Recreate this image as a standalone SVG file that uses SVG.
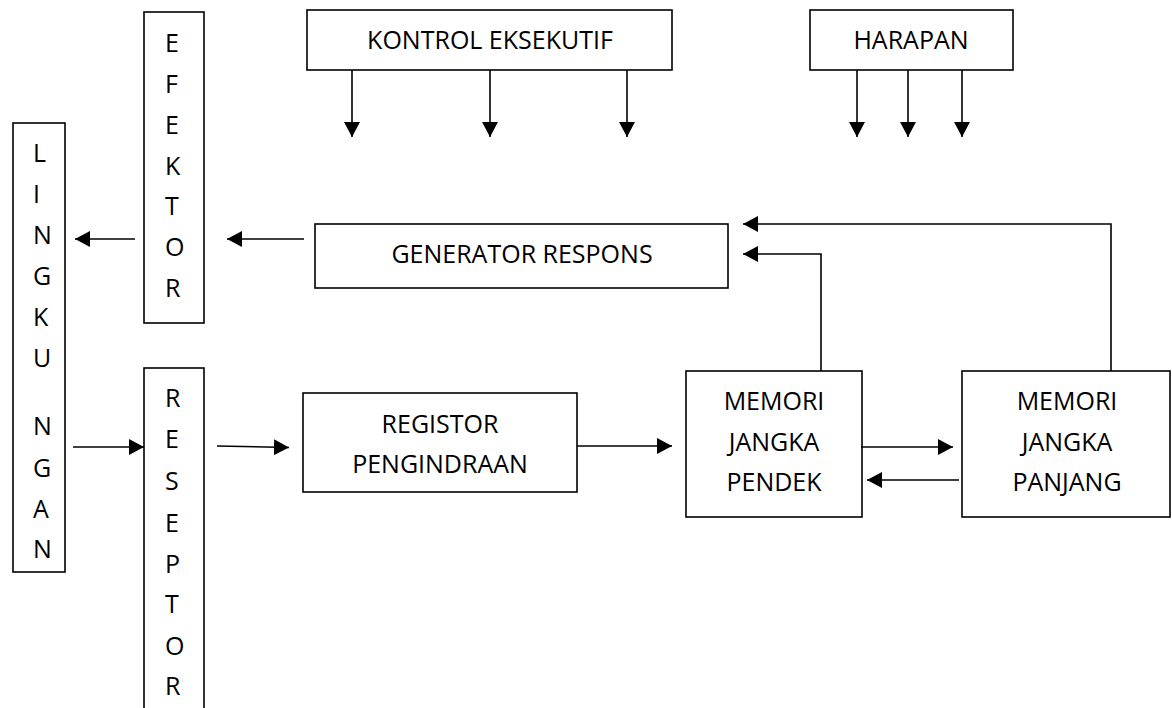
<svg xmlns="http://www.w3.org/2000/svg" width="1172" height="708" viewBox="0 0 1172 708">
<style>
.box{fill:#fff;stroke:#000;stroke-width:1.6}
.t{font-family:"Open Sans","Liberation Sans",sans-serif;font-size:25px;fill:#000}
.c{text-anchor:middle}
.v{text-anchor:start}
.ln{fill:none;stroke:#000;stroke-width:1.6}
</style>
<defs>
<marker id="ah" markerUnits="userSpaceOnUse" markerWidth="15" markerHeight="16" refX="15" refY="8" orient="auto">
<path d="M0,0 L15,8 L0,16 z" fill="#000"/>
</marker>
</defs>
<rect width="1172" height="708" fill="#fff"/>

<g id="efektor">
<rect class="box" x="144" y="12" width="60" height="311"/>
<text class="t v" x="165" y="52">E</text>
<text class="t v" x="165" y="93">F</text>
<text class="t v" x="165" y="134">E</text>
<text class="t v" x="165" y="175">K</text>
<text class="t v" x="165" y="215">T</text>
<text class="t v" x="165" y="256">O</text>
<text class="t v" x="165" y="297">R</text>
</g>

<g id="lingkungan">
<rect class="box" x="13" y="123" width="52" height="449"/>
<text class="t v" x="33" y="162">L</text>
<text class="t v" x="33" y="203">I</text>
<text class="t v" x="33" y="244">N</text>
<text class="t v" x="33" y="285">G</text>
<text class="t v" x="33" y="326">K</text>
<text class="t v" x="33" y="367">U</text>
<text class="t v" x="33" y="435">N</text>
<text class="t v" x="33" y="477">G</text>
<text class="t v" x="33" y="518">A</text>
<text class="t v" x="33" y="558">N</text>
</g>

<g id="reseptor">
<rect class="box" x="144" y="368" width="60" height="360"/>
<text class="t v" x="165" y="407">R</text>
<text class="t v" x="165" y="448">E</text>
<text class="t v" x="165" y="490">S</text>
<text class="t v" x="165" y="532">E</text>
<text class="t v" x="165" y="573">P</text>
<text class="t v" x="165" y="613">T</text>
<text class="t v" x="165" y="655">O</text>
<text class="t v" x="165" y="695">R</text>
</g>

<g id="kontrol">
<rect class="box" x="307" y="10" width="365" height="60"/>
<text class="t c" x="490" y="49">KONTROL EKSEKUTIF</text>
</g>

<g id="harapan">
<rect class="box" x="810" y="10" width="203" height="60"/>
<text class="t c" x="911" y="49">HARAPAN</text>
</g>

<g id="generator">
<rect class="box" x="315" y="224" width="413" height="64"/>
<text class="t c" x="522" y="263">GENERATOR RESPONS</text>
</g>

<g id="registor">
<rect class="box" x="303" y="393" width="274" height="99"/>
<text class="t c" x="440" y="433">REGISTOR</text>
<text class="t c" x="440" y="473">PENGINDRAAN</text>
</g>

<g id="stm">
<rect class="box" x="686" y="371" width="176" height="146"/>
<text class="t c" x="774" y="410">MEMORI</text>
<text class="t c" x="774" y="451">JANGKA</text>
<text class="t c" x="774" y="491">PENDEK</text>
</g>

<g id="ltm">
<rect class="box" x="962" y="371" width="208" height="146"/>
<text class="t c" x="1067" y="410">MEMORI</text>
<text class="t c" x="1067" y="451">JANGKA</text>
<text class="t c" x="1067" y="491">PANJANG</text>
</g>

<g id="connectors">
<line class="ln" x1="352" y1="70" x2="352" y2="137" marker-end="url(#ah)"/>
<line class="ln" x1="490" y1="70" x2="490" y2="137" marker-end="url(#ah)"/>
<line class="ln" x1="627" y1="70" x2="627" y2="137" marker-end="url(#ah)"/>
<line class="ln" x1="857" y1="70" x2="857" y2="137" marker-end="url(#ah)"/>
<line class="ln" x1="908" y1="70" x2="908" y2="137" marker-end="url(#ah)"/>
<line class="ln" x1="962" y1="70" x2="962" y2="137" marker-end="url(#ah)"/>
<line class="ln" x1="135" y1="239" x2="75" y2="239" marker-end="url(#ah)"/>
<line class="ln" x1="304" y1="239" x2="227" y2="239" marker-end="url(#ah)"/>
<line class="ln" x1="73" y1="447" x2="144" y2="447" marker-end="url(#ah)"/>
<line class="ln" x1="217" y1="446" x2="289" y2="447.5" marker-end="url(#ah)"/>
<line class="ln" x1="577" y1="446" x2="672" y2="446" marker-end="url(#ah)"/>
<line class="ln" x1="861" y1="447" x2="953" y2="447" marker-end="url(#ah)"/>
<line class="ln" x1="959" y1="480" x2="867" y2="480" marker-end="url(#ah)"/>
<polyline class="ln" points="1111,371 1111,224 743,224" marker-end="url(#ah)"/>
<polyline class="ln" points="821,371 821,254 743,254" marker-end="url(#ah)"/>
</g>
</svg>
